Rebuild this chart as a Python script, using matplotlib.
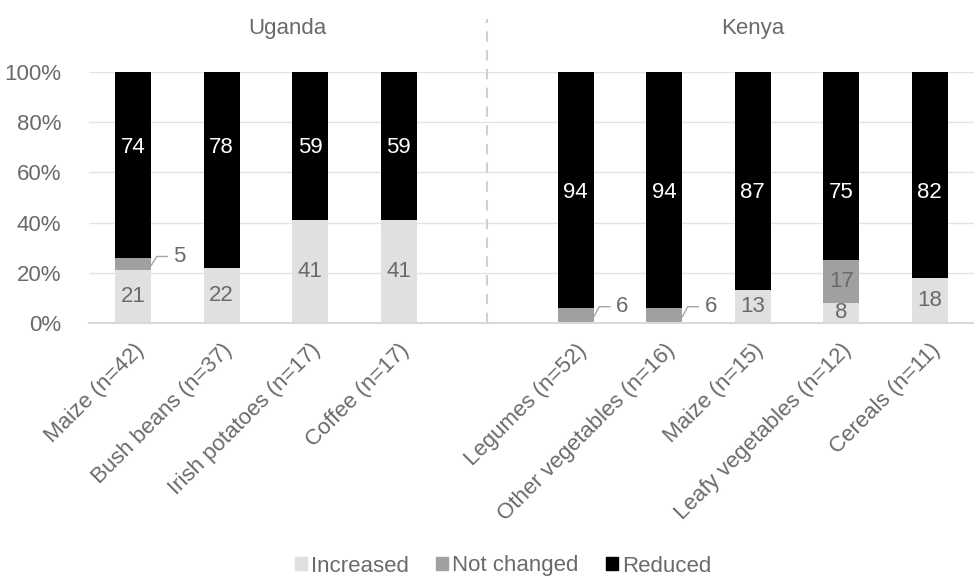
import numpy as np
import matplotlib.pyplot as plt
from matplotlib.patches import Patch

plt.rcParams['font.family'] = ['Liberation Sans', 'DejaVu Sans']

# crops per country, an empty slot separates the two groups
crops = ['Maize (n=42)', 'Bush beans (n=37)', 'Irish potatoes (n=17)', 'Coffee (n=17)', '',
         'Legumes (n=52)', 'Other vegetables (n=16)', 'Maize (n=15)', 'Leafy vegetables (n=12)', 'Cereals (n=11)']
country = ['Uganda'] * 5 + ['Kenya'] * 5

increased = [21, 22, 41, 41, 0, 0, 0, 13, 8, 18]
not_changed = [5, 0, 0, 0, 0, 6, 6, 0, 17, 0]
reduced = [74, 78, 59, 59, 0, 94, 94, 87, 75, 82]

c_inc = '#e0e0e0'
c_nc = '#a0a0a0'
c_red = '#000000'
txt = '#6a6a6a'
fs = 16

fig = plt.figure(figsize=(9.74, 5.8), dpi=100)
ax = fig.add_axes([89 / 974, 1 - 323 / 580, 885 / 974, 251 / 580])

x = np.arange(len(crops))
inc = np.array(increased) / 100
nc = np.array(not_changed) / 100
red = np.array(reduced) / 100
w = 0.41

ax.bar(x, inc, w, color=c_inc, zorder=2)
ax.bar(x, nc, w, bottom=inc, color=c_nc, zorder=2)
ax.bar(x, red, w, bottom=inc + nc, color=c_red, zorder=2)

# height of the "Reduced" labels in each panel
red_label_y = {'Uganda': 0.70, 'Kenya': 0.52}

for i in range(len(crops)):
    if crops[i] == '':
        continue
    if increased[i]:
        ax.text(x[i], inc[i] / 2, str(increased[i]), ha='center', va='center',
                fontsize=fs, color=txt, zorder=3)
    if not_changed[i]:
        if not_changed[i] >= 10:
            ax.text(x[i], inc[i] + nc[i] / 2, str(not_changed[i]), ha='center', va='center',
                    fontsize=fs, color=txt, zorder=3)
        else:
            # small segment: label outside with a leader line
            mid = inc[i] + nc[i] / 2
            ly = inc[i] + nc[i] + 0.005
            edge = x[i] + w / 2
            ax.plot([edge, edge + 0.06, edge + 0.18], [mid - 0.005, ly, ly],
                    color='#a6a6a6', lw=1, zorder=3)
            ax.text(edge + 0.25, ly, str(not_changed[i]), ha='left', va='center',
                    fontsize=fs, color=txt, zorder=3)
    if reduced[i]:
        ax.text(x[i], red_label_y[country[i]], str(reduced[i]), ha='center', va='center',
                fontsize=fs, color='white', zorder=3)

ax.set_xlim(-0.5, len(crops) - 0.5)
ax.set_ylim(0, 1)
ax.set_yticks(np.arange(0, 1.01, 0.2))
ax.set_yticklabels([f'{int(round(v * 100))}%' for v in np.arange(0, 1.01, 0.2)])
ax.yaxis.grid(True, color='#e3e3e3', lw=1, zorder=0)
ax.set_axisbelow(True)
for s in ['top', 'right', 'left']:
    ax.spines[s].set_visible(False)
ax.spines['bottom'].set_color('#d9d9d9')
ax.spines['bottom'].set_linewidth(1.5)

ax.set_xticks([i for i in x if crops[i] != ''])
ax.set_xticklabels([c for c in crops if c != ''], rotation=45, ha='right',
                   rotation_mode='anchor', fontsize=fs, color=txt)
ax.tick_params(axis='x', length=0, pad=12)
ax.tick_params(axis='y', length=0, pad=20, labelsize=fs, labelcolor=txt)

# separator between the countries and the group titles
sep = country.index('Kenya') - 1
ax.plot([sep, sep], [0, 1.21], transform=ax.get_xaxis_transform(), color='#d0d0d0',
        lw=1.5, ls=(0, (5, 4)), clip_on=False, zorder=1)
ax.text(1.74, 1.175, 'Uganda', transform=ax.get_xaxis_transform(), ha='center',
        va='center', fontsize=fs, color=txt)
ax.text(7.0, 1.175, 'Kenya', transform=ax.get_xaxis_transform(), ha='center',
        va='center', fontsize=fs, color=txt)

handles = [Patch(color=c_inc), Patch(color=c_nc), Patch(color=c_red)]
fig.legend(handles, ['Increased', 'Not changed', 'Reduced'], loc='center',
           bbox_to_anchor=(503 / 974, 1 - 566 / 580), ncol=3, frameon=False,
           fontsize=fs, labelcolor=txt, handlelength=0.55, handleheight=0.55,
           handletextpad=0.2, columnspacing=1.2)

fig.savefig('out.png', dpi=100)
